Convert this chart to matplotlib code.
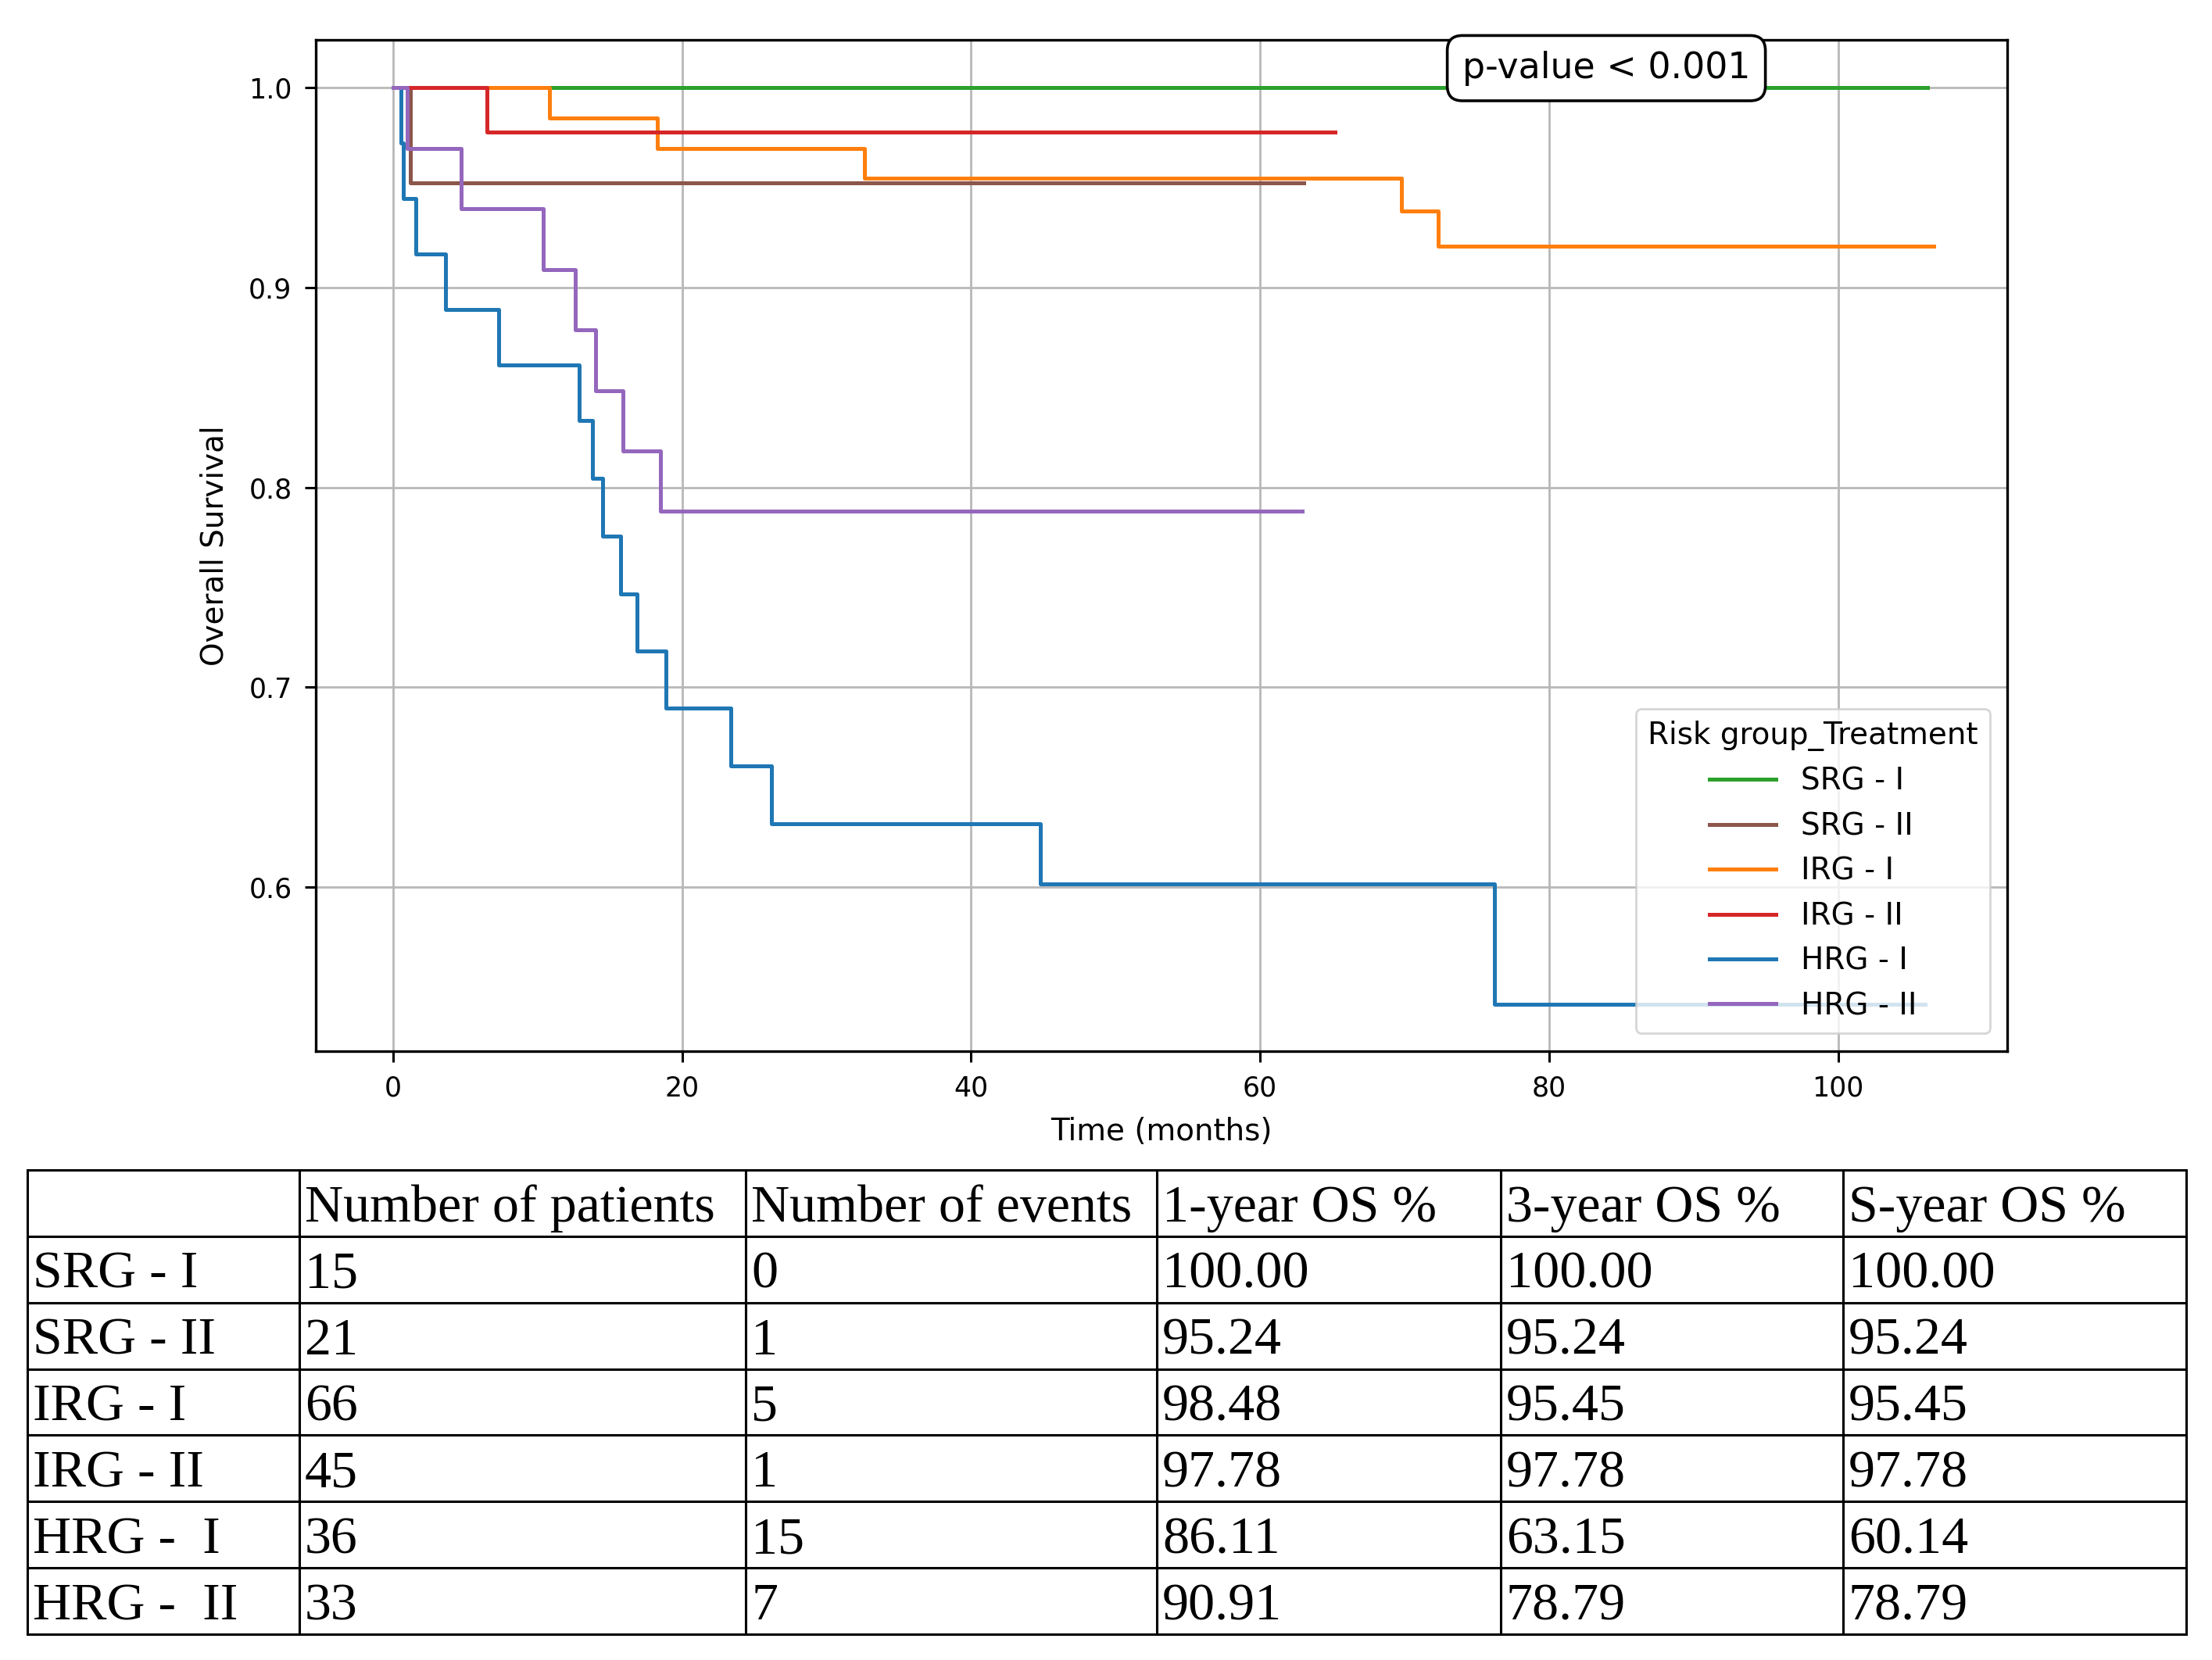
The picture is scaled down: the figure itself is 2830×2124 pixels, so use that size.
import matplotlib
matplotlib.use('Agg')
import matplotlib.pyplot as plt

# ---------------- data ----------------
groups = ['SRG - I', 'SRG - II', 'IRG - I', 'IRG - II', 'HRG - I', 'HRG - II']
colors = ['#2ca02c', '#8c564b', '#ff7f0e', '#d62728', '#1f77b4', '#9467bd']

srg1_times = []
srg1_surv = []
srg1_end = 106.2

srg2_times = [1.2]
srg2_surv = [0.9524]
srg2_end = 63.0

irg1_times = [10.8, 18.3, 32.6, 69.8, 72.3]
irg1_surv = [0.9848, 0.9697, 0.9545, 0.9382, 0.9208]
irg1_end = 106.6

irg2_times = [6.5]
irg2_surv = [0.9778]
irg2_end = 65.2

hrg1_times = [0.57, 0.72, 1.6, 3.65, 7.3, 12.9, 13.8, 14.5, 15.75, 16.9,
              18.9, 23.4, 26.2, 44.8, 76.2]
hrg1_surv = [0.9722, 0.9444, 0.9167, 0.8889, 0.8611, 0.8333, 0.8046, 0.7755,
             0.7468, 0.7181, 0.6894, 0.6606, 0.6315, 0.6014, 0.5413]
hrg1_end = 106.0

hrg2_times = [1.0, 4.7, 10.4, 12.6, 14.0, 15.9, 18.5]
hrg2_surv = [0.9697, 0.9394, 0.9091, 0.8788, 0.8485, 0.8182, 0.7879]
hrg2_end = 62.9

x_ticks = [0, 20, 40, 60, 80, 100]
y_ticks = [0.6, 0.7, 0.8, 0.9, 1.0]

# table data
table_header = ['', 'Number of patients', 'Number of events',
                '1-year OS %', '3-year OS %', 'S-year OS %']
table_groups = ['SRG - I', 'SRG - II', 'IRG - I', 'IRG - II', 'HRG -  I', 'HRG -  II']
n_patients = [15, 21, 66, 45, 36, 33]
n_events = [0, 1, 5, 1, 15, 7]
os_1y = [100.00, 95.24, 98.48, 97.78, 86.11, 90.91]
os_3y = [100.00, 95.24, 95.45, 97.78, 63.15, 78.79]
os_5y = [100.00, 95.24, 95.45, 97.78, 60.14, 78.79]

# ---------------- figure ----------------
fig = plt.figure(figsize=(14.15, 10.62), dpi=200)
ax = fig.add_axes([0.1428, 0.3668, 0.7646, 0.6092])

series = [
    (srg1_times, srg1_surv, srg1_end),
    (srg2_times, srg2_surv, srg2_end),
    (irg1_times, irg1_surv, irg1_end),
    (irg2_times, irg2_surv, irg2_end),
    (hrg1_times, hrg1_surv, hrg1_end),
    (hrg2_times, hrg2_surv, hrg2_end),
]

for (t, s, end), g, c in zip(series, groups, colors):
    xs = [0.0] + list(t) + [end]
    ys = [1.0] + list(s) + [s[-1] if s else 1.0]
    ax.step(xs, ys, where='post', color=c, lw=1.8, label=g)

ax.set_xlim(-5.34, 111.7)
ax.set_ylim(0.5179, 1.0239)
ax.set_xticks(x_ticks)
ax.set_yticks(y_ticks)
ax.tick_params(axis='both', labelsize=12.5, length=5, width=1.1, pad=6)
for sp in ax.spines.values():
    sp.set_linewidth(1.2)
ax.grid(True, color='#b8b8b8', lw=1.0)
ax.set_axisbelow(True)
ax.set_xlabel('Time (months)', fontsize=14, labelpad=7)
ax.set_ylabel('Overall Survival', fontsize=14, labelpad=9)

leg = ax.legend(title='Risk group_Treatment', loc='lower right',
                bbox_to_anchor=(0.99, 0.018), borderaxespad=0,
                fontsize=14, title_fontsize=14, handlelength=2.2,
                labelspacing=0.5)

ax.text(0.763, 0.972, 'p-value < 0.001', transform=ax.transAxes,
        ha='center', va='center', fontsize=16.5, zorder=10, clip_on=False,
        bbox=dict(boxstyle='round,pad=0.42', fc='white', ec='black', lw=1.3))

# ---------------- table ----------------
tax = fig.add_axes([0.0124, 0.0155, 0.9759, 0.2797])
tax.axis('off')

rows = [table_header]
for g, n, e, a, b, c5 in zip(table_groups, n_patients, n_events, os_1y, os_3y, os_5y):
    rows.append([g, str(n), str(e), f'{a:.2f}', f'{b:.2f}', f'{c5:.2f}'])

col_px = [348, 571, 526, 440, 438, 439]
col_w = [w / sum(col_px) for w in col_px]

tbl = tax.table(cellText=rows, colWidths=col_w, bbox=[0, 0, 1, 1], cellLoc='left')
tbl.auto_set_font_size(False)
for (r, cidx), cell in tbl.get_celld().items():
    cell.set_linewidth(1.1)
    cell.set_edgecolor('black')
    cell.PAD = 7.0 / col_px[cidx]
    txt = cell.get_text()
    txt.set_fontfamily('Liberation Serif')
    txt.set_fontsize(24.5)
    txt.set_verticalalignment('center_baseline')

fig.savefig('out.png', dpi=200)
